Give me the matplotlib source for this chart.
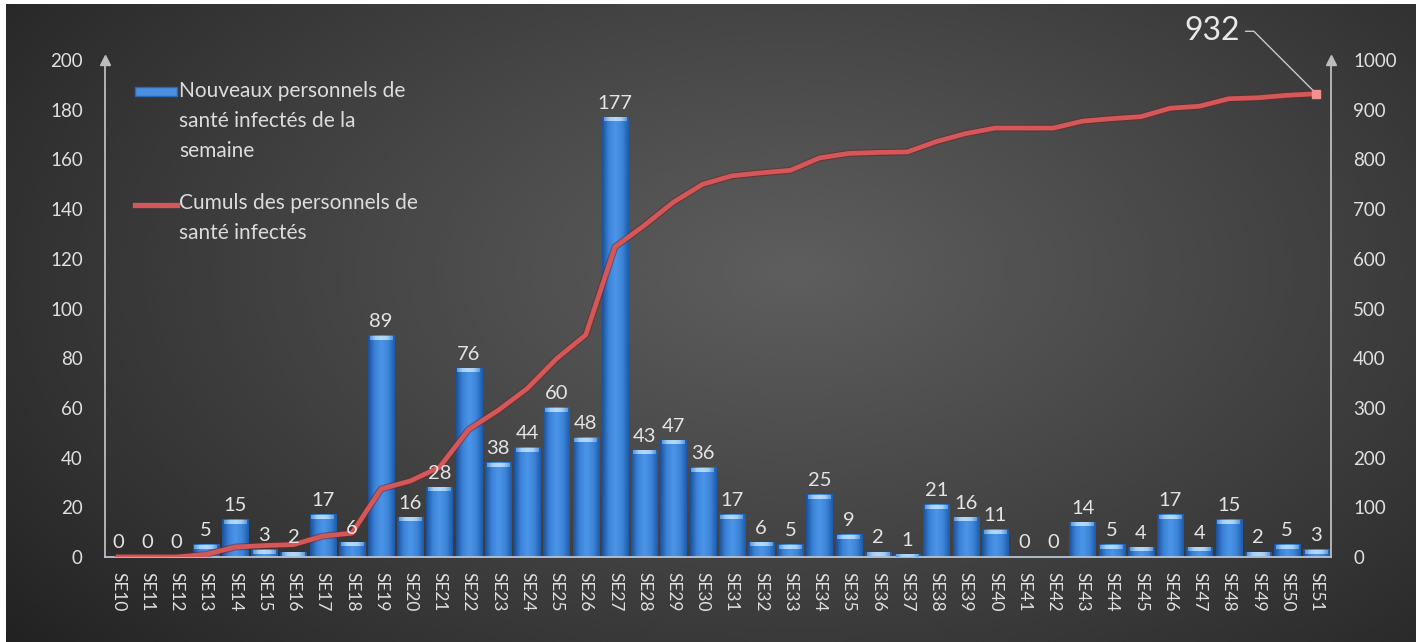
import numpy as np
import matplotlib
matplotlib.use("Agg")
import matplotlib.pyplot as plt
from matplotlib.colors import LinearSegmentedColormap
from matplotlib.patches import Rectangle
from matplotlib.lines import Line2D
import matplotlib.patheffects as pe

plt.rcParams["font.family"] = ["Lato", "DejaVu Sans"]

# semaines épidémiologiques
semaines = ["SE%d" % n for n in range(10, 52)]

# nouveaux personnels de santé infectés par semaine
nouveaux = [0, 0, 0, 5, 15, 3, 2, 17, 6, 89, 16, 28, 76, 38, 44, 60, 48, 177,
            43, 47, 36, 17, 6, 5, 25, 9, 2, 1, 21, 16, 11, 0, 0, 14, 5, 4, 17,
            4, 15, 2, 5, 3]

# cumul des personnels de santé infectés
cumuls = [0, 0, 0, 5, 20, 23, 25, 42, 48, 137, 153, 181, 257, 295, 339, 399,
          447, 624, 667, 714, 750, 767, 773, 778, 803, 812, 814, 815, 836, 852,
          863, 863, 863, 877, 882, 886, 903, 907, 922, 924, 929, 932]

label_barres = "Nouveaux personnels de\nsanté infectés de la\nsemaine"
label_ligne = "Cumuls des personnels de\nsanté infectés"

W, H = 1423, 642
fig = plt.figure(figsize=(W / 100, H / 100), dpi=100, facecolor="white")

# fond sombre avec dégradé radial
bg = fig.add_axes([6 / W, 0, 1410 / W, 638 / H])
bg.set_axis_off()
yy, xx = np.mgrid[0:1:300j, 0:1:600j]
r = np.sqrt(((xx - 0.56) / 0.75) ** 2 + ((yy - 0.42) / 0.95) ** 2)
val = 0.12 + 0.25 * np.clip(1 - r, 0, 1) ** 0.9
bg.imshow(val, cmap="gray", vmin=0, vmax=1, extent=[0, 1, 0, 1],
          aspect="auto", origin="upper", interpolation="bicubic")

ax = fig.add_axes([105 / W, 1 - 557 / H, (1331 - 105) / W, (557 - 60) / H])
ax.patch.set_visible(False)
ax2 = ax.twinx()

x = np.arange(len(semaines))

# barres avec dégradé horizontal et bord supérieur clair
bar_cmap = LinearSegmentedColormap.from_list(
    "barre", ["#1c5099", "#3b83d8", "#4d95e8", "#3d85d9", "#1f5cab"])
cap_cmap = LinearSegmentedColormap.from_list(
    "bord", ["#5b9be0", "#a6d0f7", "#b5d9fa", "#a6d0f7", "#5b9be0"])
grad = np.linspace(0, 1, 64).reshape(1, -1)
w = 0.9
for xi, v in zip(x, nouveaux):
    if v <= 0:
        continue
    ax.imshow(grad, cmap=bar_cmap, extent=[xi - w / 2, xi + w / 2, 0, v],
              aspect="auto", zorder=2, interpolation="bilinear")
    cap = min(1.6, v)
    ax.imshow(grad, cmap=cap_cmap,
              extent=[xi - w / 2 + 0.06, xi + w / 2 - 0.06, v - cap, v],
              aspect="auto", zorder=3, interpolation="bilinear")

ax.set_xlim(-0.45, len(semaines) - 0.5)
ax.set_ylim(0, 200)
ax2.set_ylim(0, 1000)

# courbe des cumuls
ax2.plot(x, cumuls, color="#d4585a", lw=3.4, solid_joinstyle="round",
         path_effects=[pe.Stroke(linewidth=5, foreground="#6e2424", alpha=0.55),
                       pe.Normal()], zorder=4)
ax2.plot(x[-1], cumuls[-1], marker="s", ms=6, color="#f09292", zorder=5)

# étiquettes de valeurs
for xi, v in zip(x, nouveaux):
    ax2.annotate(str(v), xy=(xi, v), xycoords=ax.transData,
                 xytext=(0, 4), textcoords="offset points",
                 ha="center", va="bottom", fontsize=14.5, color="#e4e4e4",
                 zorder=6)

ax2.annotate(str(cumuls[-1]), xy=(x[-1], cumuls[-1]), xytext=(-55, 45),
             textcoords="offset points", ha="right", va="center",
             fontsize=23, color="#e8e8e8",
             arrowprops=dict(arrowstyle="-", color="#c8c8c8", lw=1,
                             connectionstyle="angle,angleA=0,angleB=135,rad=0",
                             shrinkA=2, shrinkB=2))

# axes
axis_col = "#bdbdbd"
for a in (ax, ax2):
    for s in a.spines.values():
        s.set_visible(False)
ax.spines["left"].set_visible(True)
ax.spines["left"].set_color(axis_col)
ax.spines["left"].set_linewidth(1.3)
ax.spines["bottom"].set_visible(True)
ax.spines["bottom"].set_color("#b8c4d4")
ax.spines["bottom"].set_linewidth(1.3)
ax2.spines["right"].set_visible(True)
ax2.spines["right"].set_color(axis_col)
ax2.spines["right"].set_linewidth(1.3)
for xpos in (0, 1):
    ax.plot([xpos], [1.0], marker="^", ms=7, color=axis_col,
            transform=ax.transAxes, clip_on=False, zorder=5)

ax.set_yticks(range(0, 201, 20))
ax2.set_yticks(range(0, 1001, 100))
ax.set_xticks(x)
ax.set_xticklabels(semaines, rotation=-90, fontsize=12.5)
ax.tick_params(axis="x", length=0, pad=11, colors="#e0e0e0")
ax.tick_params(axis="y", length=0, pad=16, labelsize=13.5, colors="#e0e0e0")
ax2.tick_params(axis="y", length=0, pad=16, labelsize=13.5, colors="#e0e0e0")

# légende
fig.add_artist(Rectangle((135 / W, 1 - 96 / H), 42 / W, 9 / H,
                         transform=fig.transFigure, facecolor="#4a8fe0",
                         edgecolor="#2a66b4", lw=1))
fig.add_artist(Line2D([135 / W, 177 / W], [1 - 205 / H, 1 - 205 / H],
                      transform=fig.transFigure, color="#d4585a", lw=3.8))
fig.text(179 / W, 1 - 81 / H, label_barres, ha="left", va="top",
         fontsize=15, color="#dcdcdc", linespacing=1.62)
fig.text(179 / W, 1 - 193 / H, label_ligne, ha="left", va="top",
         fontsize=15, color="#dcdcdc", linespacing=1.62)

fig.savefig("out.png", dpi=100, facecolor="white")
